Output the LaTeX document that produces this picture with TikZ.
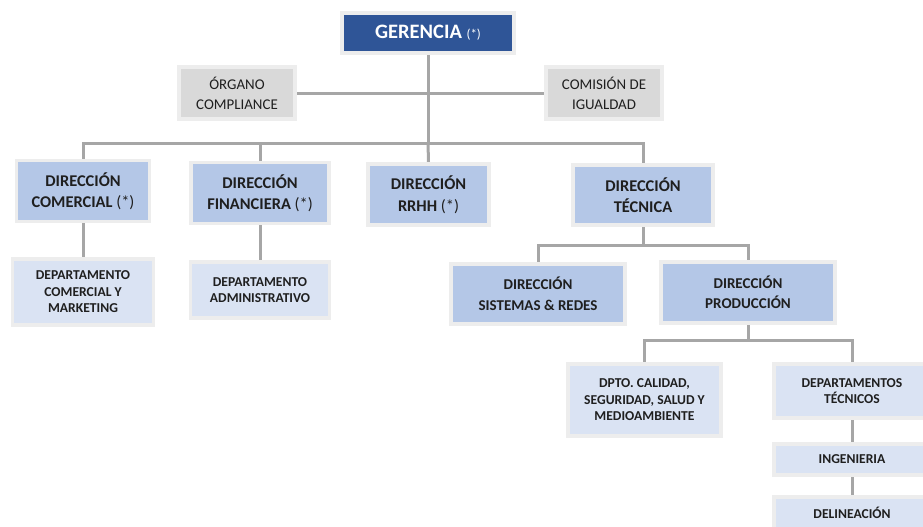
\documentclass[tikz,border=0pt]{standalone}
\usepackage{fontspec}
\setmainfont{Carlito}
\usepackage{tikz}
\usetikzlibrary{backgrounds}

\definecolor{gerblue}{HTML}{2F5597}
\definecolor{dirblue}{HTML}{B4C7E7}
\definecolor{deptblue}{HTML}{DAE3F3}
\definecolor{sidegray}{HTML}{D9D9D9}
\definecolor{boxrim}{HTML}{EDEDED}
\definecolor{linkgray}{HTML}{A6A6A6}

\begin{document}
\begin{tikzpicture}[x=1pt, y=-1pt,
        box/.style={draw=boxrim, line width=3.5pt, inner sep=0pt, align=center, text=black!88},
        topbox/.style={box, fill=gerblue, text=white, font=\bfseries\fontsize{20.5}{24}\selectfont},
        sidebox/.style={box, fill=sidegray, font=\fontsize{14.9}{20}\selectfont},
        dirbox/.style={box, fill=dirblue, font=\bfseries\fontsize{16.4}{21.5}\selectfont},
        subdirbox/.style={box, fill=dirblue, font=\bfseries\fontsize{15}{20.5}\selectfont},
        deptbox/.style={box, fill=deptblue, font=\bfseries\fontsize{13.6}{16.5}\selectfont},
        link/.style={draw=linkgray, line width=3pt}]
        \clip (0,0) rectangle (923,527);

        % Gerencia and side bodies
        \node[topbox, minimum width=172, minimum height=40] (ger) at (428,33)
            {GERENCIA {\mdseries\fontsize{13}{15}\selectfont (*)}};
        \node[sidebox, minimum width=116, minimum height=52] (org) at (237,93) {ÓRGANO\\COMPLIANCE};
        \node[sidebox, minimum width=116, minimum height=52] (com) at (604,93) {COMISIÓN DE\\IGUALDAD};

        % Direcciones
        \node[dirbox, minimum width=133, minimum height=61] (dcom) at (83,191) {DIRECCIÓN\\COMERCIAL {\mdseries(*)}};
        \node[dirbox, minimum width=138, minimum height=61] (dfin) at (260,193) {DIRECCIÓN\\FINANCIERA {\mdseries(*)}};
        \node[dirbox, minimum width=121, minimum height=61] (drrhh) at (428.5,194.5) {DIRECCIÓN\\RRHH {\mdseries(*)}};
        \node[dirbox, minimum width=140, minimum height=60] (dtec) at (643,195) {DIRECCIÓN\\TÉCNICA};

        % Departamentos
        \node[deptbox, minimum width=141, minimum height=66] (dmkt) at (83,292) {DEPARTAMENTO\\COMERCIAL Y\\MARKETING};
        \node[deptbox, minimum width=139, minimum height=56] (dadm) at (260,290) {DEPARTAMENTO\\ADMINISTRATIVO};

        % Area tecnica
        \node[subdirbox, minimum width=174, minimum height=60] (dsis) at (538,294) {DIRECCIÓN\\SISTEMAS \& REDES};
        \node[subdirbox, minimum width=174, minimum height=61] (dprod) at (748,292.5) {DIRECCIÓN\\PRODUCCIÓN};
        \node[deptbox, minimum width=153, minimum height=72] (dcal) at (644.5,400) {DPTO. CALIDAD,\\SEGURIDAD, SALUD Y\\MEDIOAMBIENTE};
        \node[deptbox, minimum width=156, minimum height=54] (dtcs) at (852,391) {DEPARTAMENTOS\\TÉCNICOS};
        \node[deptbox, minimum width=156, minimum height=31] (ing) at (852,459.5) {INGENIERIA};
        \node[deptbox, minimum width=156, minimum height=32] (del) at (852,513) {DELINEACIÓN};

        \coordinate (bus) at (428,143);
        \coordinate (tbus) at (643,245);
        \coordinate (pbus) at (748,340);

        \begin{pgfonlayer}{background}
            \draw[link] (org) -- (com);
            \draw[link] (ger) -- (bus);
            \draw[link] (dcom.north) |- (bus) -| (dtec.north);
            \draw[link] (dfin.north) -- (dfin.north |- bus);
            \draw[link] (drrhh.north) -- (bus);
            \draw[link] (dcom) -- (dmkt);
            \draw[link] (dfin) -- (dadm);
            \draw[link] (dtec) -- (tbus);
            \draw[link] (dsis.north) |- (tbus) -| (dprod.north);
            \draw[link] (dprod) -- (pbus);
            \draw[link] (dcal.north) |- (pbus) -| (dtcs.north);
            \draw[link] (dtcs) -- (ing);
            \draw[link] (ing) -- (del);
        \end{pgfonlayer}
    \end{tikzpicture}
\end{document}
